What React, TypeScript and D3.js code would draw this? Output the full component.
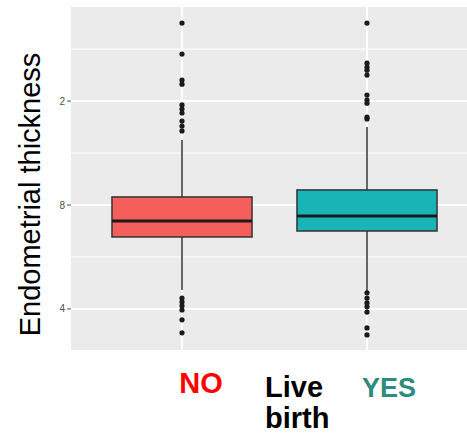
import React from "react";
import * as d3 from "d3";

// groups on the x axis
const groups = ["NO", "YES"];
const groupColors = ["#F45F5B", "#18B4B6"];
const labelColors = ["#FF0000", "#2E8B7E"];

// box statistics per group: [lowerWhisker, q1, median, q3, upperWhisker]
const boxStats = [
  [4.73, 6.77, 7.38, 8.31, 10.5],
  [4.65, 7.0, 7.58, 8.58, 11.0],
];

// outliers per group
const outliersNo = [15.0, 13.81, 12.81, 12.65, 11.85, 11.69, 11.54, 11.23, 11.04, 10.85, 4.42, 4.27, 4.12, 3.96, 3.58, 3.08];
const outliersYes = [15.0, 13.46, 13.31, 13.19, 13.0, 12.23, 12.04, 11.92, 11.38, 11.31, 4.62, 4.42, 4.23, 4.08, 3.88, 3.27, 3.0];
const outliers = [outliersNo, outliersYes];

// y ticks as printed in the picture
const yTickValues = [12, 8, 4];
const yTickLabels = ["2", "8", "4"];
const yMinorValues = [14, 10, 6];

const W = 467;
const H = 433;
const panel = { left: 71, right: 478, top: 7, bottom: 350 };

export default function App() {
  const y = d3.scaleLinear().domain([2.42, 15.62]).range([panel.bottom, panel.top]);
  const x = d3.scalePoint<string>().domain(groups).range([panel.left, panel.right]).padding(0.6);
  const boxW = x.step() * 0.757;

  return (
    <div style={{ position: "absolute", left: 0, top: 0 }}>
      <svg width={W} height={H} style={{ display: "block", fontFamily: "'Liberation Sans', Arial, sans-serif" }}>
        <rect x={0} y={0} width={W} height={H} fill="#fff" />
        {/* panel */}
        <rect x={panel.left} y={panel.top} width={panel.right - panel.left} height={panel.bottom - panel.top} fill="#EBEBEB" />
        {yMinorValues.map((v) => (
          <line key={"mn" + v} x1={panel.left} x2={panel.right} y1={y(v)} y2={y(v)} stroke="#fff" strokeWidth={1} />
        ))}
        {yTickValues.map((v) => (
          <line key={"mj" + v} x1={panel.left} x2={panel.right} y1={y(v)} y2={y(v)} stroke="#fff" strokeWidth={2} />
        ))}
        {groups.map((g) => (
          <line key={"vx" + g} x1={x(g)} x2={x(g)} y1={panel.top} y2={panel.bottom} stroke="#fff" strokeWidth={2} />
        ))}

        {/* y ticks */}
        {yTickValues.map((v, i) => (
          <g key={"t" + v}>
            <line x1={67} x2={71} y1={y(v)} y2={y(v)} stroke="#4d4d4d" strokeWidth={1} />
            <text x={65} y={y(v)} dy="0.35em" textAnchor="end" fontSize={10} fill="#4d4d4d">
              {yTickLabels[i]}
            </text>
          </g>
        ))}

        {/* boxes */}
        {groups.map((g, i) => {
          const cx = x(g) as number;
          const [lo, q1, med, q3, hi] = boxStats[i];
          return (
            <g key={"b" + g}>
              <line x1={cx} x2={cx} y1={y(hi)} y2={y(q3)} stroke="#333" strokeWidth={1.5} />
              <line x1={cx} x2={cx} y1={y(q1)} y2={y(lo)} stroke="#333" strokeWidth={1.5} />
              <rect x={cx - boxW / 2} y={y(q3)} width={boxW} height={y(q1) - y(q3)} fill={groupColors[i]} stroke="#333" strokeWidth={1.5} />
              <line x1={cx - boxW / 2} x2={cx + boxW / 2} y1={y(med)} y2={y(med)} stroke="#1a1a1a" strokeWidth={3} />
              {outliers[i].map((v, j) => (
                <circle key={j} cx={cx} cy={y(v)} r={2.6} fill="#1a1a1a" />
              ))}
            </g>
          );
        })}

        {/* y title */}
        <text transform="translate(40,194.5) rotate(-90)" textAnchor="middle" fontSize={29} fill="#000">
          Endometrial thickness
        </text>

        {/* x labels */}
        <text x={201} y={393} textAnchor="middle" fontSize={29} fontWeight="bold" fill={labelColors[0]}>
          {groups[0]}
        </text>
        <text x={389} y={397} textAnchor="middle" fontSize={27} fontWeight="bold" fill={labelColors[1]}>
          {groups[1]}
        </text>
        <text x={265} y={397} fontSize={29} fontWeight="bold" fill="#000">
          Live
        </text>
        <text x={265} y={428} fontSize={29} fontWeight="bold" fill="#000">
          birth
        </text>
      </svg>
    </div>
  );
}
